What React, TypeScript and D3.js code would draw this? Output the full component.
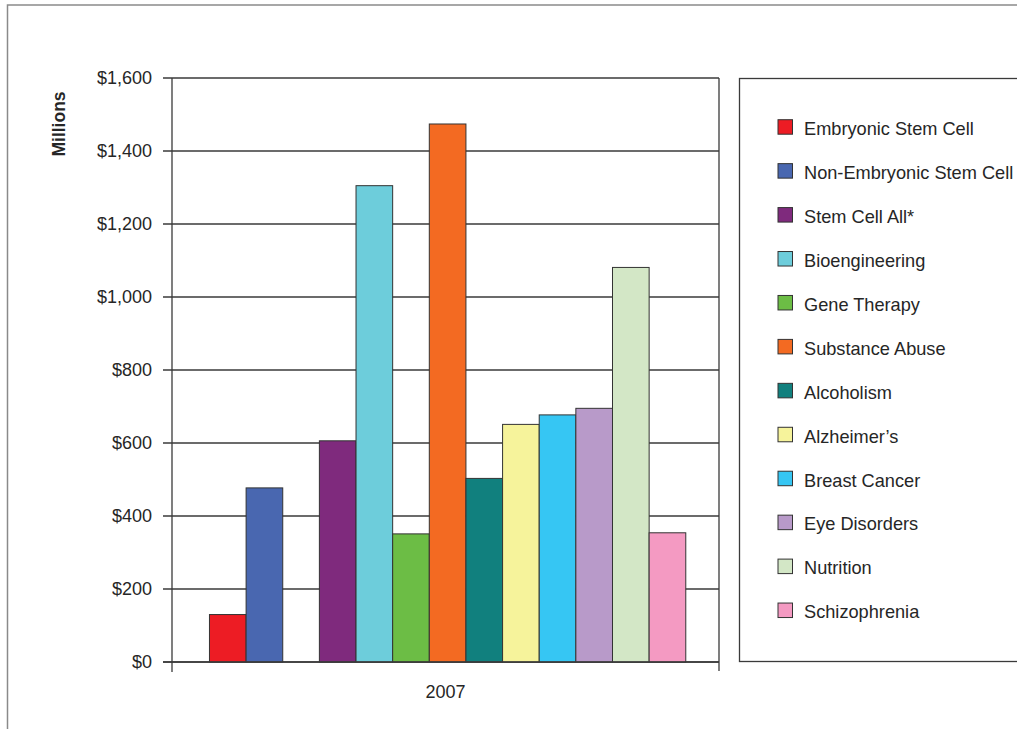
import React from "react";
import * as d3 from "d3";

// Funding by research area, 2007 (millions of dollars)
const category = "2007";
const seriesNames = [
  "Embryonic Stem Cell",
  "Non-Embryonic Stem Cell",
  "Stem Cell All*",
  "Bioengineering",
  "Gene Therapy",
  "Substance Abuse",
  "Alcoholism",
  "Alzheimer\u2019s",
  "Breast Cancer",
  "Eye Disorders",
  "Nutrition",
  "Schizophrenia",
];
const seriesValues = [130, 477, 606, 1305, 351, 1474, 503, 651, 677, 695, 1081, 354];
const seriesColors = [
  "#ED1C24",
  "#4967B0",
  "#7F2A7D",
  "#6DCDDB",
  "#6CBD45",
  "#F36A22",
  "#11807E",
  "#F6F39B",
  "#36C6F3",
  "#B89AC9",
  "#D3E7C6",
  "#F49AC2",
];
// one slot in the cluster is left empty (series without a 2007 value)
const emptySlot = 2;
const yTicks = [0, 200, 400, 600, 800, 1000, 1200, 1400, 1600];

const W = 1017;
const H = 729;
const plot = { left: 172, right: 719, top: 78, bottom: 662 };
const FONT = "'Liberation Sans', Arial, Helvetica, sans-serif";
const AXIS = "#3a3a3a";

export default function App() {
  const y = d3.scaleLinear().domain([0, 1600]).range([plot.bottom, plot.top]);
  const x0 = d3
    .scaleBand<string>()
    .domain([category])
    .range([plot.left, plot.right])
    .paddingInner(0)
    .paddingOuter(0.0742)
    .align(0.53);
  const slotCount = seriesNames.length + 1;
  const x1 = d3
    .scaleBand<number>()
    .domain(d3.range(slotCount))
    .range([0, x0.bandwidth()])
    .padding(0);
  const slotOf = (i: number) => (i < emptySlot ? i : i + 1);
  const fmt = (v: number) => "$" + d3.format(",")(v);

  const legendX = 739.5;
  const legendTop = 78.5;
  const legendBottom = 661.5;
  const rowStart = 126.7;
  const rowStep = 43.94;

  return (
    <div style={{ position: "absolute", left: 0, top: 0 }}>
      <svg width={W} height={H} style={{ display: "block" }} fontFamily={FONT}>
        <rect x={0} y={0} width={W} height={H} fill="#fff" />
        {/* outer frame */}
        <rect x={7.5} y={5} width={W + 20} height={H + 20} fill="none" stroke="#8a8a8a" strokeWidth={1.5} />

        {/* gridlines */}
        {yTicks.map((t) => (
          <line
            key={"g" + t}
            x1={plot.left - 9}
            x2={plot.right}
            y1={y(t)}
            y2={y(t)}
            stroke={AXIS}
            strokeWidth={1.3}
          />
        ))}
        {/* plot area right border */}
        <line x1={plot.right} x2={plot.right} y1={plot.top} y2={plot.bottom + 9} stroke={AXIS} strokeWidth={1.3} />
        {/* value axis */}
        <line x1={plot.left} x2={plot.left} y1={plot.top} y2={plot.bottom + 10} stroke={AXIS} strokeWidth={1.3} />

        {/* bars */}
        {seriesValues.map((v, i) => {
          const bx = (x0(category) as number) + (x1(slotOf(i)) as number);
          return (
            <rect
              key={"b" + i}
              x={bx}
              y={y(v)}
              width={x1.bandwidth()}
              height={y(0) - y(v)}
              fill={seriesColors[i]}
              stroke="#333"
              strokeWidth={1}
            />
          );
        })}
        {/* category axis line drawn over bars */}
        <line x1={plot.left - 9} x2={plot.right} y1={y(0)} y2={y(0)} stroke={AXIS} strokeWidth={1.3} />

        {/* tick labels */}
        {yTicks.map((t) => (
          <text key={"t" + t} x={152} y={y(t) + 6.3} textAnchor="end" fontSize={18} fill="#262626">
            {fmt(t)}
          </text>
        ))}
        <text
          transform={`translate(65,124) rotate(-90)`}
          textAnchor="middle"
          fontSize={17.5}
          fontWeight="bold"
          fill="#262626"
        >
          Millions
        </text>
        <text
          x={(plot.left + plot.right) / 2}
          y={698}
          textAnchor="middle"
          fontSize={18}
          fill="#262626"
        >
          {category}
        </text>

        {/* legend */}
        <rect
          x={legendX}
          y={legendTop}
          width={W}
          height={legendBottom - legendTop}
          fill="#fff"
          stroke={AXIS}
          strokeWidth={1.3}
        />
        {seriesNames.map((name, i) => {
          const cy = rowStart + rowStep * i;
          return (
            <g key={"l" + i}>
              <rect x={778} y={cy - 7} width={14.5} height={14.5} fill={seriesColors[i]} stroke="#333" strokeWidth={1} />
              <text x={804} y={cy + 8.3} fontSize={18.2} fill="#262626">
                {name}
              </text>
            </g>
          );
        })}
      </svg>
    </div>
  );
}
